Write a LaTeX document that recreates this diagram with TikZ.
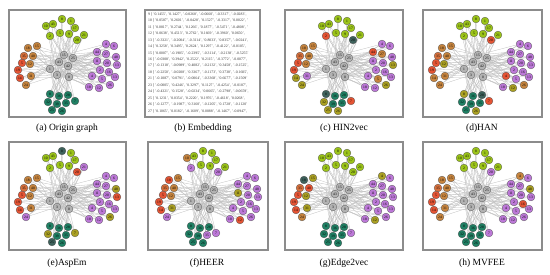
\documentclass[tikz,border=0pt]{standalone}
\usepackage{fontspec}
\setmainfont{Liberation Serif}
\usetikzlibrary{backgrounds}
\definecolor{cgrn}{RGB}{155,195,25}
\definecolor{cora}{RGB}{214,112,60}
\definecolor{cbrn}{RGB}{198,132,62}
\definecolor{cred}{RGB}{228,84,52}
\definecolor{colv}{RGB}{170,160,35}
\definecolor{cgry}{RGB}{178,178,178}
\definecolor{cpur}{RGB}{188,120,215}
\definecolor{ctea}{RGB}{32,128,100}
\definecolor{cslt}{RGB}{62,98,92}
\definecolor{cframe}{RGB}{140,140,140}
\tikzset{
  gnode/.style={circle, draw=black!65, line width=0.3pt, minimum size=7.8pt, inner sep=0pt,
    font=\fontsize{3.6}{3.6}\selectfont},
  gedge/.style={draw=black!25, line width=0.3pt},
  panelbox/.style={draw=cframe, line width=1.6pt},
  captext/.style={font=\fontsize{9.5}{10}\selectfont, inner sep=0pt},
  embtext/.style={anchor=north west, align=left, inner sep=0pt, text=black!78,
    font=\fontsize{3.8}{6.45}\selectfont}
}
\newcommand{\setc}[2]{\expandafter\def\csname ncx#1\endcsname{#2}}
\newcommand{\pickcol}[2]{\ifcsname ncx#1\endcsname\edef\thiscol{\csname ncx#1\endcsname}\else\def\thiscol{#2}\fi}
\newcommand{\clusterdraw}[3]{%
  \foreach \x/\y/\l/\dc [count=\i] in {#3} {
    \pickcol{#2\i}{\dc}
    \node[gnode, fill=\thiscol] (#1#2\i) at (\x,\y) {\l};
  }%
}
\newcommand{\graphdraw}[1]{%
  \clusterdraw{#1}{k}{55/45/15/cgry,64/48/25/cgry,50/52/43/cgry,59/56/42/cgry,41/59/1/cgry,48/65/3/cgry,60/67/0/cgry}
  \clusterdraw{#1}{g}{37/16/10/cgrn,44/14/43/cgrn,53/9/8/cgrn,62/11/1/cgrn,66/18/17/cgrn,75/25/21/cgrn,68/30/20/cgrn,60/24/9/cgrn,51/23/5/cgrn,41/26/2/cgrn}
  \clusterdraw{#1}{o}{19/38/18/cbrn,28/36/15/cbrn,15/46/35/cora,24/46/40/cbrn,13/53/5/cred,21/54/12/cbrn,9/60/19/cred,22/66/31/cbrn,11/68/14/cred,17/75/24/cbrn}
  \clusterdraw{#1}{p}{97/34/4/cpur,105/36/6/cpur,88/42/44/cpur,97/44/27/cpur,107/47/48/cpur,88/51/11/cpur,98/53/20/cpur,108/55/13/cpur,91/60/2/cpur,100/62/16/cpur,83/66/4/cpur,93/69/5/cpur,106/67/13/cpur,80/77/18/cpur,90/78/12/cpur,101/75/26/cpur}
  \clusterdraw{#1}{t}{41/84/8/ctea,50/86/36/ctea,59/85/28/ctea,39/92/32/ctea,48/94/39/ctea,57/93/35/ctea,66/91/7/ctea,43/100/25/ctea,53/101/26/ctea}
  \begin{pgfonlayer}{background}
    \foreach \c/\n in {g/10,o/10,p/16,t/9} {
      \foreach \i in {1,...,\n} {
        \pgfmathtruncatemacro\ka{mod(\i-1,7)+1}
        \pgfmathtruncatemacro\kb{mod(\i+2,7)+1}
        \pgfmathtruncatemacro\kc{mod(\i+4,7)+1}
        \draw[gedge] (#1\c\i) -- (#1k\ka);
        \draw[gedge] (#1\c\i) -- (#1k\kb);
        \draw[gedge] (#1\c\i) -- (#1k\kc);
      }
    }
    \foreach \a/\b in {1/2,1/3,2/4,3/4,3/5,4/6,5/6,6/7,4/7,2/7} {
      \draw[gedge] (#1k\a) -- (#1k\b);
    }
  \end{pgfonlayer}
}
\begin{document}
\begin{tikzpicture}[x=1pt,y=-1pt]
\useasboundingbox (0,0) rectangle (550,275);

% (a)
\draw[panelbox] (9,10) rectangle (126,117);
\begin{scope}[shift={(9,10)}]
  \graphdraw{a}
\end{scope}
\node[captext] (capa) at (67,128) {(a) Origin graph};

% (b)
\draw[panelbox] (145,10) rectangle (260,117);
\begin{scope}
\clip (146,11) rectangle (259,116);
\node[embtext] (emb) at (148,12.5) {%
9 [ '0.1455', '0.1427', '-0.0268', '-0.0660', '-0.3317', '-0.0283',\\
10 [ '0.0587', '0.2601', '-0.0428', '0.1527', '-0.3317', '0.0022', '\\
11 [ '0.0817', '0.2744', '0.1266', '0.1877', '-0.5471', '-0.4808', '\\
12 [ '0.0638', '0.4513', '0.2762', '0.1669', '-0.3960', '0.0650',\\
13 [ '-0.3321', '-0.2004', '-0.3114', '0.8033', '0.8357', '-0.0241',\\
14 [ '0.3258', '0.3495', '0.2624', '0.1297', '-0.4122', '-0.0105',\\
15 [ '0.0007', '-0.1905', '-0.2395', '-0.3114', '-0.2138', '-0.5255'\\
16 [ '-0.0308', '0.3942', '0.2522', '0.2115', '-0.3772', '-0.0077',\\
17 [ '-0.1318', '-0.0989', '0.4082', '-0.2132', '0.3458', '-0.1525',\\
18 [ '-0.2250', '-0.0208', '0.3367', '-0.1173', '0.3738', '-0.1605',\\
21 [ '-0.1087', '0.0791', '-0.0064', '-0.3368', '0.6677', '-0.1509'\\
23 [ '-0.0005', '0.4246', '0.3297', '0.1127', '-0.4254', '-0.0187',\\
24 [ '-0.4321', '0.1528', '-0.0234', '0.0665', '-0.2798', '-0.0659',\\
25 [ '0.1231', '0.0354', '0.2220', '0.1976', '-0.4618', '0.0268',\\
26 [ '-0.1277', '-0.1987', '0.3160', '-0.1205', '0.1728', '-0.1120'\\
27 [ '0.1065', '0.0182', '-0.1609', '0.0888', '-0.1467', '-0.0947',};
\end{scope}
\node[captext] (capb) at (203,128) {(b) Embedding};

% (c)
\draw[panelbox] (285,10) rectangle (403,117);
\begin{scope}[shift={(285,10)}]
  \setc{g10}{cred}\setc{g7}{cslt}\setc{o7}{cred}\setc{o8}{cpur}\setc{o9}{colv}\setc{o10}{colv}
  \setc{p3}{cred}\setc{p4}{cbrn}\setc{p8}{colv}\setc{p12}{cbrn}\setc{p16}{colv}
  \setc{t1}{cslt}\setc{t4}{colv}\setc{t7}{cred}\setc{t8}{colv}\setc{t9}{colv}
  \graphdraw{c}
\end{scope}
\node[captext] (capc) at (344,128) {(c) HIN2vec};

% (d)
\draw[panelbox] (423,10) rectangle (542,117);
\begin{scope}[shift={(423,10)}]
  \setc{g7}{cred}\setc{o6}{colv}\setc{o9}{cbrn}
  \setc{p11}{cred}\setc{p15}{colv}\setc{p16}{cbrn}
  \setc{t1}{colv}\setc{t3}{cslt}\setc{t7}{cred}\setc{t9}{colv}
  \graphdraw{d}
\end{scope}
\node[captext] (capd) at (482,128) {(d)HAN};

% (e)
\draw[panelbox] (9,142) rectangle (126,250);
\begin{scope}[shift={(9,142)}]
  \setc{g3}{cslt}\setc{g6}{cpur}\setc{g7}{cred}\setc{o10}{cpur}
  \setc{p5}{colv}\setc{p8}{cred}\setc{p16}{colv}
  \setc{t4}{colv}\setc{t7}{colv}\setc{t8}{cslt}
  \graphdraw{e}
\end{scope}
\node[captext] (cape) at (67,263) {(e)AspEm};

% (f)
\draw[panelbox] (148,142) rectangle (268,250);
\begin{scope}[shift={(150,142)}]
  \setc{g1}{cbrn}\setc{g10}{cpur}\setc{g7}{cpur}\setc{o1}{cred}\setc{o8}{colv}\setc{o10}{cpur}
  \setc{p6}{colv}\setc{p15}{cred}\setc{t6}{cpur}\setc{t7}{cpur}
  \graphdraw{f}
\end{scope}
\node[captext] (capf) at (207,263) {(f)HEER};

% (g)
\draw[panelbox] (285,142) rectangle (403,250);
\begin{scope}[shift={(285,142)}]
  \setc{o1}{cslt}\setc{o2}{colv}\setc{o4}{cred}\setc{o6}{colv}\setc{o8}{colv}\setc{o9}{cred}
  \setc{p1}{colv}\setc{p15}{colv}\setc{t7}{cpur}
  \graphdraw{g}
\end{scope}
\node[captext] (capg) at (344,263) {(g)Edge2vec};

% (h)
\draw[panelbox] (423,142) rectangle (542,250);
\begin{scope}[shift={(423,142)}]
  \setc{g7}{cpur}\setc{p1}{cbrn}\setc{p5}{colv}\setc{p10}{cred}\setc{t7}{cpur}
  \graphdraw{h}
\end{scope}
\node[captext] (caph) at (482,263) {(h) MVFEE};
\end{tikzpicture}
\end{document}
